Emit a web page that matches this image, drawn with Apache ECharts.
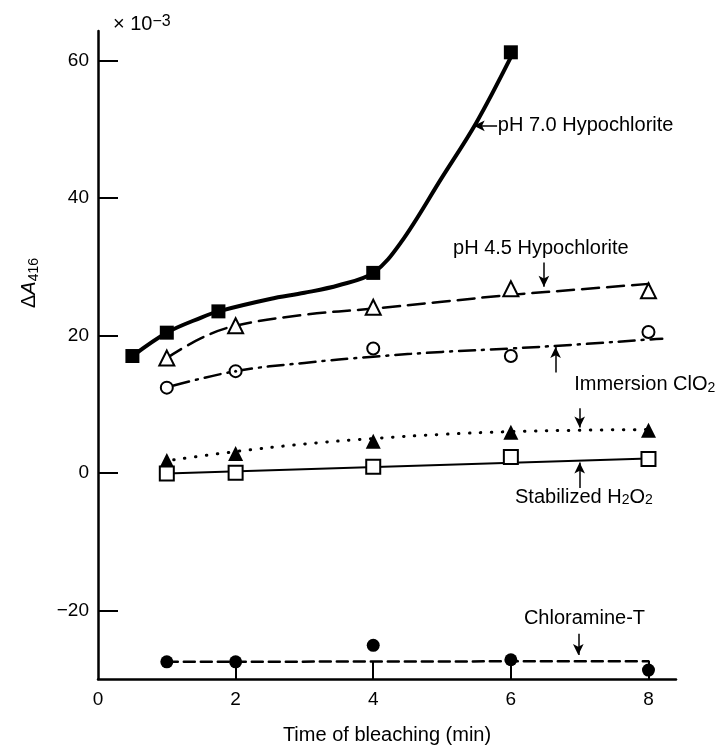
<!DOCTYPE html>
<html>
<head>
<meta charset="utf-8">
<script src="https://cdn.jsdelivr.net/npm/echarts@6/dist/echarts.min.js"></script>
<style>html,body{margin:0;padding:0;background:#fff}#c{width:719px;height:750px}</style>
</head>
<body>
<div id="c"></div>
<script>
// ---- data ----
const xTickLabels = [0, 2, 4, 6, 8];
const xTicks = [2, 4, 6, 8];
const yTickLabels = [-20, 0, 20, 40, 60];

// measured points
const ph70Pts = [[0.5, 17.0], [1, 20.4], [1.75, 23.5], [4, 29.1], [6, 61.2]];
const ph45Pts = [[1, 16.7], [2, 21.4], [4, 24.1], [6, 26.8], [8, 26.5]];
const openCirclePts = [[1, 12.4], [2, 14.8], [4, 18.1], [6, 17.0], [8, 20.5]];
const clo2Pts = [[1, 1.8], [2, 2.8], [4, 4.6], [6, 5.9], [8, 6.2]];
const h2o2Pts = [[1, -0.1], [2, 0.0], [4, 0.9], [6, 2.3], [8, 2.0]];
const chloramineTPts = [[1, -27.5], [2, -27.5], [4, -25.1], [6, -27.2], [8, -28.7]];

// fitted curves
const ph70Curve = [[0.5, 17.0], [1, 20.4], [1.5, 22.6], [1.75, 23.5], [2.5, 25.3], [3, 26.2], [3.5, 27.3], [4, 29.1], [4.4, 33.5], [5, 43.0], [5.5, 51.0], [6, 60.5]];
const ph45Curve = [[1, 16.7], [1.5, 19.6], [2, 21.4], [3, 23.0], [4, 23.9], [5, 24.9], [6, 25.9], [7, 26.7], [8, 27.5]];
const openCircleCurve = [[1.1, 12.7], [2, 14.8], [3, 16.0], [4, 16.9], [5, 17.6], [6, 18.1], [7, 18.7], [8, 19.4], [8.2, 19.5]];
const clo2Curve = [[1.1, 1.9], [2, 3.1], [3, 4.2], [4, 5.0], [5, 5.6], [6, 6.0], [7, 6.2], [8, 6.3]];
const h2o2Curve = [[1, -0.1], [8, 2.1]];
const chloramineTCurve = [[1, -27.5], [8, -27.4]];

// annotation texts and arrows (data coordinates)
const annotTexts = [
  {value: [5.81, 50.5], text: 'pH 7.0 Hypochlorite'},
  {value: [5.16, 32.7], text: 'pH 4.5 Hypochlorite'},
  {value: [6.92, 12.8], text: 'Immersion ClO{s|2}'},
  {value: [6.06, -3.6], text: 'Stabilized H{s|2}O{s|2}'},
  {value: [6.19, -21.2], text: 'Chloramine-T'}
];
const annotArrows = [
  [[5.8, 50.5], [5.46, 50.5]],
  [[6.48, 30.6], [6.48, 27.1]],
  [[6.65, 14.6], [6.65, 18.3]],
  [[7.0, 9.4], [7.0, 6.6]],
  [[7.0, -2.2], [7.0, 1.5]],
  [[6.98, -23.4], [6.98, -26.5]]
];

const FONT = '"Liberation Sans", Arial, Helvetica, sans-serif';
const chart = echarts.init(document.getElementById('c'), null, {renderer: 'canvas'});

function curve(data, width, type, smooth) {
  return {type: 'line', data: data, showSymbol: false, smooth: smooth, silent: true,
    lineStyle: {color: '#000', width: width, type: type, cap: 'round', opacity: 1}, z: 2, animation: false};
}
function pts(data, symbol, size, filled) {
  return {type: 'scatter', data: data, symbol: symbol, symbolSize: size, silent: true, z: 5,
    itemStyle: filled ? {color: '#000', opacity: 1} : {color: '#fff', borderColor: '#000', borderWidth: 2, opacity: 1},
    animation: false};
}

chart.setOption({
  animation: false,
  grid: {left: 98, right: 43, top: 31, bottom: 66},
  graphic: [{
    type: 'text', left: 113, top: 14,
    style: {text: '× 10{p|−3}', font: '20px ' + FONT, fill: '#000',
      rich: {p: {fontSize: 16, fontFamily: FONT, verticalAlign: 'top', lineHeight: 10}}}
  }, {
    type: 'text', x: 29, y: 283, rotation: Math.PI / 2,
    style: {text: 'Δ{i|A}{s|416}', font: '20px ' + FONT, fill: '#000', align: 'center', verticalAlign: 'middle',
      rich: {i: {fontStyle: 'italic', fontSize: 20, fontFamily: FONT, lineHeight: 24},
             s: {fontSize: 14, fontFamily: FONT, verticalAlign: 'bottom', lineHeight: 14}}}
  }],
  xAxis: {
    type: 'value', min: 0, max: 8.4,
    name: 'Time of bleaching (min)', nameLocation: 'middle', nameGap: 46,
    nameTextStyle: {fontSize: 20, fontFamily: FONT, color: '#000'},
    axisLine: {show: true, onZero: false, lineStyle: {color: '#000', width: 2.5}},
    axisTick: {show: true, inside: true, length: 18, customValues: xTicks, lineStyle: {color: '#000', width: 2}},
    axisLabel: {customValues: xTickLabels, fontSize: 19, color: '#000', fontFamily: FONT, margin: 11},
    splitLine: {show: false}
  },
  yAxis: {
    type: 'value', min: -30, max: 64.3,
    axisLine: {show: true, onZero: false, lineStyle: {color: '#000', width: 2.5}},
    axisTick: {show: true, inside: true, length: 20, customValues: yTickLabels, lineStyle: {color: '#000', width: 2}},
    axisLabel: {customValues: yTickLabels, fontSize: 19, color: '#000', fontFamily: FONT, margin: 9,
      formatter: v => (v < 0 ? '−' + Math.abs(v) : String(v))},
    splitLine: {show: false}
  },
  series: [
    curve(ph70Curve, 4, 'solid', 0.35),
    curve(ph45Curve, 2.5, [17, 8], 0.4),
    curve(openCircleCurve, 2.5, [16, 7, 2, 7], 0.4),
    curve(clo2Curve, 3, [0.5, 10.5], 0.4),
    curve(h2o2Curve, 2, 'solid', false),
    curve(chloramineTCurve, 2.5, [11, 6], false),
    pts(ph70Pts, 'rect', 14, true),
    pts(ph45Pts, 'triangle', 15, false),
    pts(openCirclePts, 'circle', 12, false),
    pts([openCirclePts[1]], 'circle', 3, true),
    pts(clo2Pts, 'triangle', 15, true),
    pts(h2o2Pts, 'rect', 14, false),
    pts(chloramineTPts, 'circle', 13, true),
    {
      type: 'scatter', symbolSize: 0, silent: true, z: 6,
      itemStyle: {opacity: 1, color: '#000'},
      data: annotTexts.map(a => ({value: a.value, name: a.text})),
      label: {show: true, position: 'right', distance: 0, formatter: p => p.name,
        fontSize: 20, fontFamily: FONT, color: '#000', opacity: 1,
        rich: {s: {fontSize: 14, verticalAlign: 'bottom', lineHeight: 14, fontFamily: FONT, color: '#000'}}},
      markLine: {
        silent: true, symbol: ['none', 'arrow'], symbolSize: [8, 11], animation: false,
        lineStyle: {color: '#000', width: 1.5, type: 'solid', opacity: 1}, label: {show: false},
        data: annotArrows.map(a => [{coord: a[0]}, {coord: a[1]}])
      }
    }
  ]
});
</script>
</body>
</html>
